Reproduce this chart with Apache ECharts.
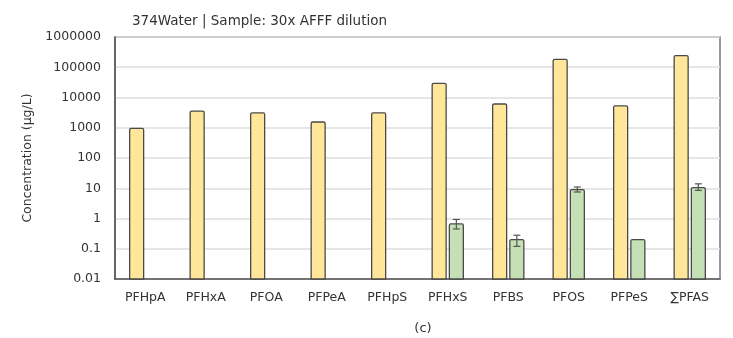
<!DOCTYPE html>
<html>
<head>
<meta charset="utf-8">
<script src="https://cdn.jsdelivr.net/npm/echarts@6/dist/echarts.min.js"></script>
<style>
  html, body { margin: 0; padding: 0; background: #fff; }
  #main { width: 733px; height: 338px; }
</style>
</head>
<body>
<div id="main"></div>
<script>
var categories = ['PFHpA', 'PFHxA', 'PFOA', 'PFPeA', 'PFHpS', 'PFHxS', 'PFBS', 'PFOS', 'PFPeS', '∑PFAS'];
// yellow = before treatment, green = after treatment
var beforeValues = [960, 3550, 3100, 1550, 3100, 29500, 6100, 183000, 5250, 241000];
var afterValues = [null, null, null, null, null, 0.66, 0.2, 9, 0.2, 10.5];
var afterLow = [null, null, null, null, null, 0.45, 0.12, 7.5, null, 8.5];
var afterHigh = [null, null, null, null, null, 0.93, 0.28, 11, null, 14];
var yTicks = [0.01, 0.1, 1, 10, 100, 1000, 10000, 100000, 1000000];
var yMin = 0.01;

var chartDom = document.getElementById('main');
var myChart = echarts.init(chartDom);

var barW = 14;
var shift = 8.6; // half the distance between the two bar centres

function toData(arr) {
    var out = [];
    for (var i = 0; i < arr.length; i++) {
        if (arr[i] != null) out.push([i, arr[i]]);
    }
    return out;
}

function barRenderer(offset, fill) {
    return function (params, api) {
        var base = api.coord([api.value(0), yMin]);
        var top = api.coord([api.value(0), api.value(1)]);
        var x = base[0] + offset - barW / 2;
        return {
            type: 'rect',
            shape: { x: x, y: top[1], width: barW, height: base[1] - top[1], r: [1.5, 1.5, 0, 0] },
            style: { fill: fill, stroke: '#4a4a4a', lineWidth: 1.3 }
        };
    };
}

var errData = [];
for (var i = 0; i < categories.length; i++) {
    if (afterLow[i] != null) {
        errData.push([i, afterLow[i], afterHigh[i]]);
    }
}

var option = {
    animation: false,
    textStyle: { fontFamily: 'DejaVu Sans, sans-serif' },
    title: [{
        text: '374Water | Sample: 30x AFFF dilution',
        left: 127,
        top: 9,
        textStyle: { fontSize: 13.5, fontWeight: 'normal', color: '#333', fontFamily: 'DejaVu Sans' }
    }, {
        text: '(c)',
        left: 418,
        top: 317,
        textAlign: 'center',
        textStyle: { fontSize: 13, fontWeight: 'normal', color: '#333', fontFamily: 'DejaVu Sans' }
    }],
    grid: {
        left: 115, right: 13, top: 37, bottom: 59,
        show: true,
        borderColor: '#7a7a7a',
        borderWidth: 1.5
    },
    xAxis: {
        type: 'category',
        data: categories,
        axisLine: { lineStyle: { color: '#555', width: 1.5 } },
        axisTick: { show: false },
        axisLabel: { color: '#333', fontSize: 12.5, margin: 12 }
    },
    yAxis: {
        type: 'log',
        logBase: 10,
        min: yMin,
        max: 1000000,
        name: 'Concentration (µg/L)',
        nameLocation: 'middle',
        nameGap: 75,
        nameRotate: 90,
        nameTextStyle: { color: '#333', fontSize: 12.5 },
        axisLine: { show: true, lineStyle: { color: '#555', width: 1.5 } },
        axisTick: { show: false },
        splitLine: { lineStyle: { color: '#dedede', width: 1.5 } },
        axisLabel: {
            color: '#333',
            fontSize: 12.5,
            margin: 14,
            formatter: function (v) {
                var n = +(+v).toPrecision(1);
                return yTicks.indexOf(n) >= 0 ? String(n) : '';
            }
        }
    },
    series: [{
        name: 'before',
        type: 'custom',
        data: toData(beforeValues),
        renderItem: barRenderer(-shift, '#FFE699')
    }, {
        name: 'after',
        type: 'custom',
        data: toData(afterValues),
        renderItem: barRenderer(shift, '#C5E0B4')
    }, {
        name: 'error',
        type: 'custom',
        data: errData,
        z: 10,
        renderItem: function (params, api) {
            var lo = api.coord([api.value(0), api.value(1)]);
            var hi = api.coord([api.value(0), api.value(2)]);
            var x = lo[0] + shift;
            var cap = 3.5;
            var st = { stroke: '#555', lineWidth: 1.2 };
            return {
                type: 'group',
                children: [
                    { type: 'line', shape: { x1: x, y1: lo[1], x2: x, y2: hi[1] }, style: st },
                    { type: 'line', shape: { x1: x - cap, y1: lo[1], x2: x + cap, y2: lo[1] }, style: st },
                    { type: 'line', shape: { x1: x - cap, y1: hi[1], x2: x + cap, y2: hi[1] }, style: st }
                ]
            };
        }
    }]
};

option && myChart.setOption(option);
</script>
</body>
</html>
